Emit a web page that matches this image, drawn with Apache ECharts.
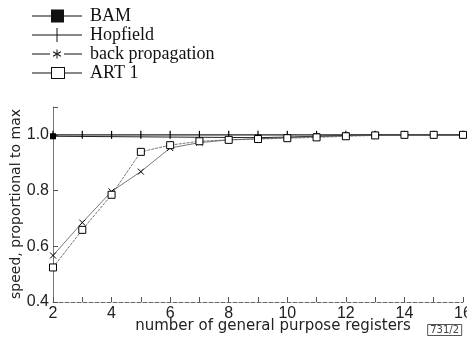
<!DOCTYPE html>
<html>
<head>
<meta charset="utf-8">
<script src="https://cdn.jsdelivr.net/npm/echarts@6/dist/echarts.min.js"></script>
<style>
  html, body { margin: 0; padding: 0; background: #fff; }
  #chart { width: 467px; height: 339px; }
</style>
</head>
<body>
<div id="chart"></div>
<script>
// registers on the x axis
var registers = [2, 3, 4, 5, 6, 7, 8, 9, 10, 11, 12, 13, 14, 15, 16];
// speed, proportional to max (null = no marker visible, line joined through)
var bam       = [0.995, null, null, null, null, null, null, 0.99, 0.992, 0.995, 0.998, 1.0, 1.0, 1.0, 1.0];
var hopfield  = [1.0, 1.0, 1.0, 1.0, 1.0, 1.0, 1.0, 1.0, 1.0, 1.0, 1.0, 1.0, 1.0, 1.0, 1.0];
var backProp  = [0.567, 0.685, 0.797, 0.868, 0.953, 0.972, 0.982, 0.986, 0.99, 0.994, 0.997, 0.999, 1.0, 1.0, 1.0];
var art1      = [0.524, 0.659, 0.785, 0.939, 0.963, 0.977, 0.982, 0.985, 0.988, 0.991, 0.995, 0.998, 1.0, 1.0, 1.0];
var seriesNames = ['BAM', 'Hopfield', 'back propagation', 'ART 1'];
var xName = 'number of general purpose registers';
var yName = 'speed, proportional to max';

function pairs(vals) {
    return registers.map(function (x, i) { return [x, vals[i]]; });
}

// legend icons: line + marker, drawn in a 50x14 box
var specks = 'M0,0h0.01v0.01h-0.01Z M50,14h-0.01v-0.01h0.01Z ';
var legendIcons = {
    'BAM': 'path://' + specks + 'M0,6.5H50V7.5H0Z M19,0.5H32V13.5H19Z',
    'Hopfield': 'path://' + specks + 'M0,6.5H50V7.5H0Z M24.5,0H25.5V14H24.5Z',
    'back propagation': 'path://' + specks + 'M0,6.5H18V7.5H0Z M32,6.5H50V7.5H32Z ' +
        'M24.5,2.5H25.5V11.5H24.5Z M20.85,5.18L28.65,9.68L29.15,8.82L21.35,4.32Z ' +
        'M21.35,9.68L29.15,5.18L28.65,4.32L20.85,8.82Z',
    'ART 1': 'path://' + specks + 'M0,6.5H19V7.5H0Z M33,6.5H50V7.5H33Z ' +
        'M19,1H33V13H19Z M20,2V12H32V2Z'
};

var ink = '#222';
var sans = '"DejaVu Sans", sans-serif';
var tickFont = '"Liberation Sans", sans-serif';

var chart = echarts.init(document.getElementById('chart'));
chart.setOption({
    animation: false,
    backgroundColor: '#fff',
    title: {
        text: '731/2',
        right: 5,
        bottom: 3,
        padding: [1, 3],
        borderColor: '#555',
        borderWidth: 1,
        textStyle: { fontFamily: sans, fontSize: 10, fontWeight: 'normal', color: '#444' }
    },
    legend: {
        orient: 'vertical',
        left: 27,
        top: 2,
        itemWidth: 50,
        itemHeight: 14,
        itemGap: 1,
        symbolKeepAspect: false,
        data: seriesNames.map(function (n) {
            return { name: n, icon: legendIcons[n], itemStyle: { color: '#111', borderWidth: 0 } };
        }),
        textStyle: { fontFamily: '"Liberation Serif", serif', fontSize: 18, lineHeight: 18, color: '#111', padding: [0, 0, 0, 3] }
    },
    // axis titles
    graphic: [
        {
            type: 'text', x: 273, y: 326,
            style: { text: xName, font: '15px ' + sans, fill: '#222', align: 'center', verticalAlign: 'middle' }
        },
        {
            type: 'text', x: 16, y: 204, rotation: Math.PI / 2,
            style: { text: yName, font: '14px ' + sans, fill: '#222', align: 'center', verticalAlign: 'middle' }
        }
    ],
    grid: { left: 53, right: 4, top: 107, bottom: 37, outerBoundsMode: 'none' },
    xAxis: {
        type: 'value',
        min: 2,
        max: 16,
        interval: 2,
        axisLine: { lineStyle: { color: '#666', width: 1, type: 'dashed' } },
        axisTick: { inside: true, length: 5, lineStyle: { color: '#555' } },
        minorTick: { show: true, splitNumber: 2, length: 5, lineStyle: { color: '#555' } },
        axisLabel: { fontFamily: tickFont, fontSize: 16, color: '#222', margin: 4 },
        splitLine: { show: false }
    },
    yAxis: {
        type: 'value',
        min: 0.4,
        max: 1.1,
        interval: 0.2,
        axisLine: { show: true, lineStyle: { color: '#777', width: 1 } },
        axisTick: { inside: true, length: 5, lineStyle: { color: '#555' } },
        axisLabel: {
            fontFamily: tickFont, fontSize: 16, color: '#222', margin: 4,
            formatter: function (v) { return v > 1.05 ? '' : v.toFixed(1); }
        },
        splitLine: { show: false }
    },
    series: [
        {
            name: 'BAM', type: 'line', data: pairs(bam), connectNulls: true,
            symbol: 'rect', symbolSize: 6,
            itemStyle: { color: '#000' },
            lineStyle: { color: ink, width: 1 }
        },
        {
            name: 'Hopfield', type: 'line', data: pairs(hopfield),
            symbol: 'rect', symbolSize: [1.2, 8],
            itemStyle: { color: '#000' },
            lineStyle: { color: ink, width: 1.2 }
        },
        {
            name: 'back propagation', type: 'line', data: pairs(backProp),
            symbol: 'path://M-1,-1L1,1M-1,1L1,-1',
            symbolSize: 6,
            itemStyle: { color: 'none', borderColor: '#000', borderWidth: 1 },
            lineStyle: { color: '#555', width: 0.8 }
        },
        {
            name: 'ART 1', type: 'line', data: pairs(art1),
            symbol: 'rect', symbolSize: 7,
            itemStyle: { color: '#fff', borderColor: '#000', borderWidth: 1 },
            lineStyle: { color: '#555', width: 0.8, type: [3, 1] }
        }
    ]
});
</script>
</body>
</html>
